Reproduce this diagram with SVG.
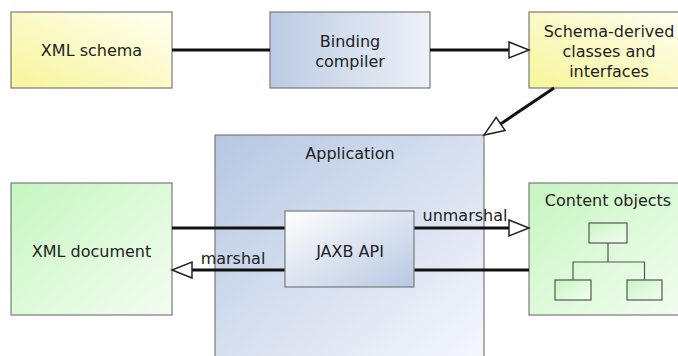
<svg xmlns="http://www.w3.org/2000/svg" width="678" height="356" viewBox="0 0 678 356">
<style>
.box{stroke:#7a7a7a;stroke-width:1.2}
.lbl{font-family:"DejaVu Sans",sans-serif;font-size:16px;fill:#222;text-anchor:middle}
.con{stroke:#111;stroke-width:3;fill:none}
.small{stroke:#555;stroke-width:1.2}
</style>
<defs>
<linearGradient id="gy" x1="0" y1="1" x2="1" y2="0">
<stop offset="0" stop-color="#f7f59a"/><stop offset="1" stop-color="#fffff4"/>
</linearGradient>
<linearGradient id="gb" x1="0" y1="0.5" x2="1" y2="0.5">
<stop offset="0" stop-color="#bccbe2"/><stop offset="1" stop-color="#edf1f8"/>
</linearGradient>
<linearGradient id="gg" x1="0" y1="0" x2="1" y2="1">
<stop offset="0" stop-color="#c6f6c0"/><stop offset="1" stop-color="#f4fdf2"/>
</linearGradient>
<linearGradient id="ga" x1="0" y1="0" x2="1" y2="1">
<stop offset="0" stop-color="#b6c7e2"/><stop offset="1" stop-color="#f6f8fc"/>
</linearGradient>
<linearGradient id="gj" x1="0" y1="0" x2="1" y2="1">
<stop offset="0" stop-color="#ffffff"/><stop offset="1" stop-color="#b8c8e2"/>
</linearGradient>
<marker id="arr" markerUnits="userSpaceOnUse" markerWidth="24" markerHeight="20" refX="1" refY="9" orient="auto" viewBox="0 0 24 20">
<path d="M1,1 L21,9 L1,17 Z" fill="#fff" stroke="#222" stroke-width="1.5"/>
</marker>
</defs>

<g id="xml-schema">
<rect class="box" x="11" y="12" width="161" height="76" fill="url(#gy)"/>
<text class="lbl" x="91.5" y="56">XML schema</text>
</g>
<g id="binding-compiler">
<rect class="box" x="270" y="12" width="160" height="76" fill="url(#gb)"/>
<text class="lbl" x="350" y="47">Binding</text>
<text class="lbl" x="350" y="67">compiler</text>
</g>
<g id="schema-derived">
<rect class="box" x="529" y="12" width="162" height="76" fill="url(#gy)"/>
<text class="lbl" x="609" y="37">Schema-derived</text>
<text class="lbl" x="609" y="57">classes and</text>
<text class="lbl" x="609" y="77">interfaces</text>
</g>
<g id="application">
<rect class="box" x="215" y="135" width="269" height="230" fill="url(#ga)"/>
<text class="lbl" x="350" y="159">Application</text>
</g>
<g id="xml-document">
<rect class="box" x="11" y="183" width="161" height="132" fill="url(#gg)"/>
<text class="lbl" x="91.5" y="257">XML document</text>
</g>
<g id="content-objects">
<rect class="box" x="529" y="183" width="162" height="132" fill="url(#gg)"/>
<text class="lbl" x="608" y="206">Content objects</text>
<rect class="small" x="589" y="223" width="38" height="20" fill="url(#gg)"/>
<rect class="small" x="555" y="280" width="36" height="20" fill="url(#gg)"/>
<rect class="small" x="627" y="280" width="35" height="20" fill="url(#gg)"/>
<path class="small" fill="none" d="M608,243 V262 M573,280 V262 H644.5 V280"/>
</g>

<g id="connectors">
<line class="con" x1="172" y1="50" x2="270" y2="50"/>
<line class="con" x1="430" y1="50" x2="509" y2="50" marker-end="url(#arr)"/>
<line class="con" x1="554" y1="88" x2="500.6" y2="123.9" marker-end="url(#arr)"/>
<line class="con" x1="172" y1="228" x2="285" y2="228"/>
<line class="con" x1="414" y1="228" x2="509" y2="228" marker-end="url(#arr)"/>
<line class="con" x1="529" y1="270" x2="414" y2="270"/>
<line class="con" x1="285" y1="270" x2="192" y2="270" marker-end="url(#arr)"/>
<text class="lbl" x="465" y="221">unmarshal</text>
<text class="lbl" x="233" y="264">marshal</text>
</g>

<g id="jaxb-api">
<rect class="box" x="285" y="211" width="129" height="76" fill="url(#gj)"/>
<text class="lbl" x="350" y="257">JAXB API</text>
</g>
</svg>
